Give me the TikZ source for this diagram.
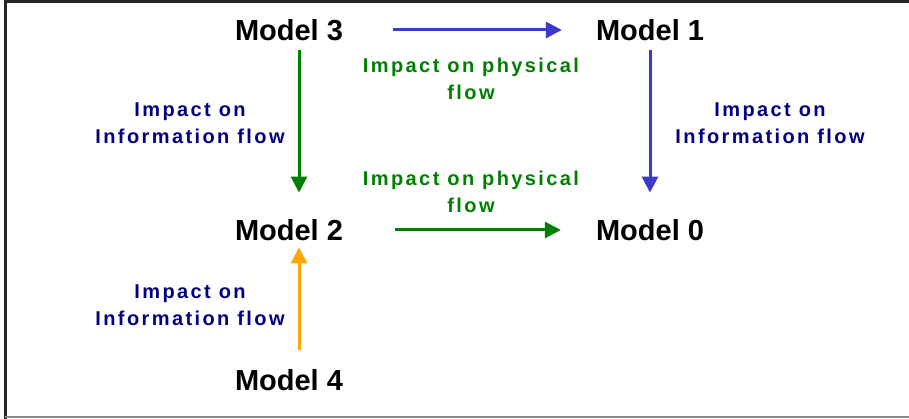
\documentclass[tikz,border=0pt]{standalone}
\usepackage{fontspec}
\setmainfont{Liberation Sans}
\newfontfamily\modelfont{Liberation Sans}[UprightFont={* Bold}]
\newfontfamily\lblfont{Liberation Sans}[UprightFont={* Bold},LetterSpace=12]
\usetikzlibrary{arrows.meta}
\definecolor{arrblue}{RGB}{58,58,204}
\definecolor{arrgreen}{RGB}{0,128,0}
\definecolor{arrorange}{RGB}{255,165,0}
\definecolor{navy}{RGB}{0,0,128}
\tikzset{
  model/.style={inner sep=0pt, text height=20.5pt, text depth=0pt, font=\modelfont\fontsize{29}{29}\selectfont},
  lbl/.style={inner sep=0pt, align=center, font=\lblfont\fontsize{20}{27}\selectfont},
  infolbl/.style={lbl, text=navy},
  physlbl/.style={lbl, text=arrgreen},
  flow/.style={line width=3pt, -{Triangle[length=16pt,width=16pt]}},
}
\begin{document}
\begin{tikzpicture}[x=1pt,y=-1pt]
\useasboundingbox (0,0) rectangle (909,419);
\fill[white] (0,0) rectangle (909,419);
\draw[line width=3pt, black!85] (5,419) -- (5,2) -- (909,2);
\draw[line width=1.5pt, black!45] (5,417) -- (909,417);

\node[model] (m3) at (289,30) {Model 3};
\node[model] (m1) at (650,30) {Model 1};
\node[model] (m2) at (289,230) {Model 2};
\node[model] (m0) at (650,230) {Model 0};
\node[model] (m4) at (289,380) {Model 4};

\draw[flow, arrblue, shorten <=50pt, shorten >=34pt] (m3.east) -- (m1.west);
\draw[flow, arrgreen, shorten <=52pt, shorten >=35pt] (m2.east) -- (m0.west);
\draw[flow, arrgreen, shorten <=10pt, shorten >=27pt] ([xshift=10pt]m3.south) -- ([xshift=10pt]m2.north);
\draw[flow, arrblue, shorten <=10pt, shorten >=27pt] (m1.south) -- (m0.north);
\draw[flow, arrorange, shorten <=20pt, shorten >=7pt] ([xshift=10pt]m4.north) -- ([xshift=10pt]m2.south);

\node[physlbl] (p1) at (471,79) {Impact on physical\\flow};
\node[physlbl] (p2) at (471,192) {Impact on physical\\flow};
\node[infolbl] (i1) at (190,123) {Impact on\\Information flow};
\node[infolbl] (i2) at (770,123) {Impact on\\Information flow};
\node[infolbl] (i3) at (190,305) {Impact on\\Information flow};
\end{tikzpicture}
\end{document}
